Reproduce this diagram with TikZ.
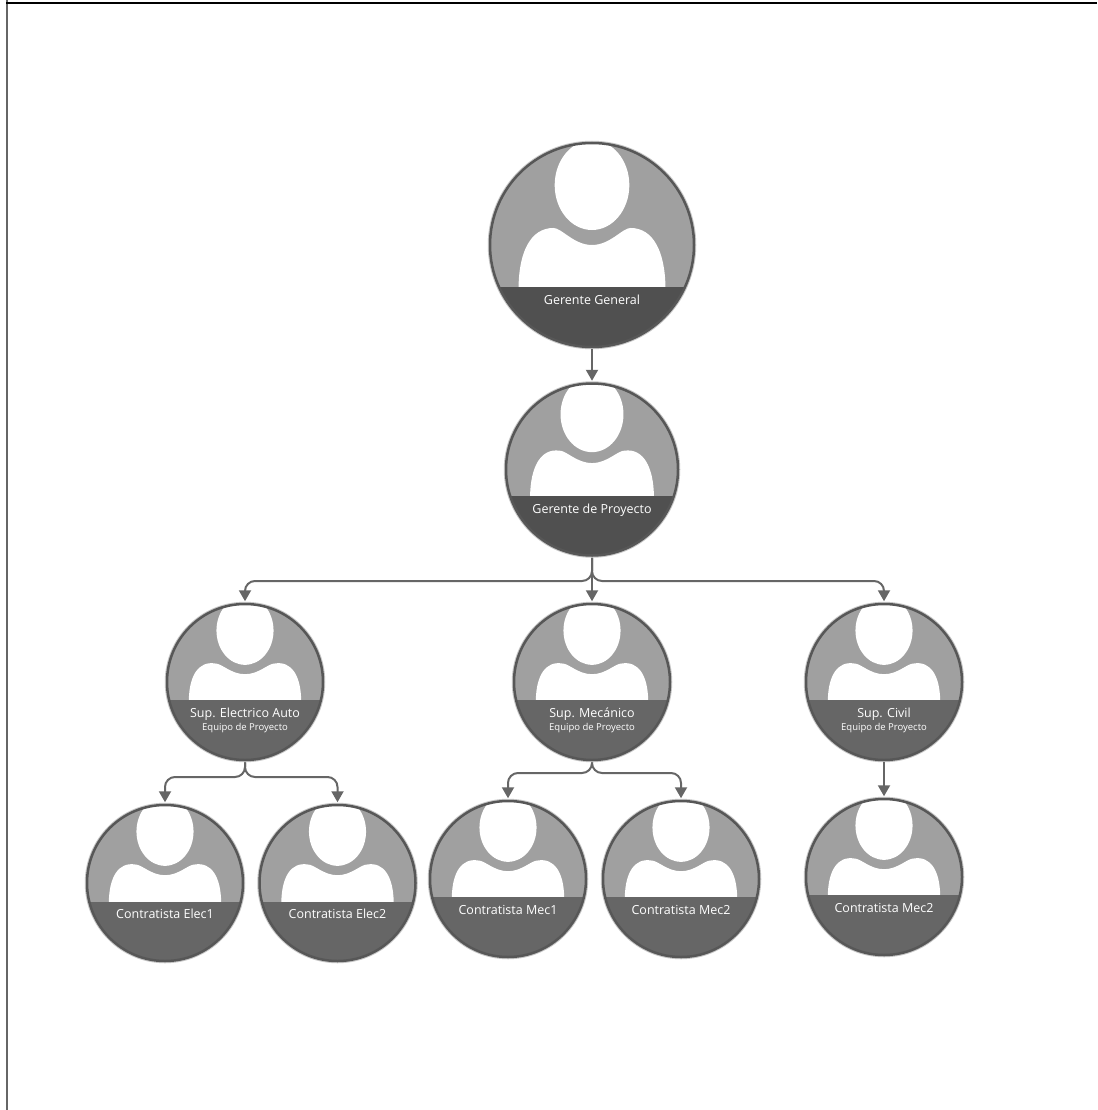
\documentclass[tikz,border=0pt]{standalone}
\usepackage{fontspec}
\setmainfont{Open Sans}
\usetikzlibrary{arrows.meta}
\definecolor{fondo}{HTML}{A0A0A0}
\definecolor{oscuro}{HTML}{505050}
\definecolor{medio}{HTML}{666666}
\tikzset{
	aro/.style = {draw = medio!85!black, circle, line width = 2.5pt, inner sep = 0pt},
	halo/.style = {draw = black!22, line width = 4.5pt},
	cuerpo/.style = {fill = white},
	etiqueta/.style = {text = white, align = center, inner sep = 0pt, font = \fontsize{12.5}{15}\selectfont},
	flecha/.style = {draw = medio, line width = 2pt, shorten < = 1pt, shorten > = 1.5pt, rounded corners = 10pt, -{Triangle[length = 11pt, width = 12pt]}}
}
\newcommand{\subtitulo}[1]{\\[-2pt]{\fontsize{9.5}{10}\selectfont #1}}
\newcommand{\persona}[8]{
	\begin{scope}[shift = {(#2,#3)}, x = #4pt, y = #4pt]
		\draw[halo] (0,0) circle (1);
		\begin{scope}
			\clip (0,0) circle (1);
			\fill[fondo] (-1,-1) rectangle (1,1);
			\fill[cuerpo] (0,{.587+.73*#6}) ellipse [x radius = .366, y radius = .44];
			\fill[cuerpo] (-.72,-1) -- (-.72,-#5) .. controls (-.715,{-#5+.6*(#5+.167+1.1*#6)}) and (-.6,{.165+1.1*#6}) .. (-.38,{.167+.7*#6})
				.. controls (-.3,{.17+.7*#6}) and (-.18,#6) .. (0,#6)
				.. controls (.18,#6) and (.3,{.17+.7*#6}) .. (.38,{.167+.7*#6})
				.. controls (.6,{.165+1.1*#6}) and (.715,{-#5+.6*(#5+.167+1.1*#6)}) .. (.72,-#5) -- (.72,-1) -- cycle;
			\fill[#7] (-1,-#5) rectangle (1,-1);
		\end{scope}
		\node[etiqueta, anchor = north] (#1t) at (0,-#5) {\rule{0pt}{17pt}#8};
	\end{scope}
	\node[aro, minimum size = #4*2pt] (#1) at (#2,#3) {};
}
\begin{document}
\begin{tikzpicture}[x = 1pt, y = -1pt]
	\useasboundingbox (0,0) rectangle (1097,1110);
	\fill[white] (0,0) rectangle (1097,1110);
	\draw[medio, line width = 2pt] (7,0) -- (7,1110);
	\draw[black, line width = 2pt] (6,3) -- (1097,3);

	\persona{gg}{592}{245}{102}{.41}{0}{oscuro}{Gerente General}
	\persona{gp}{592}{469.5}{86}{.31}{.075}{oscuro}{Gerente de Proyecto}
	\persona{se}{245}{682}{78}{.23}{.1}{medio}{Sup. Electrico Auto\subtitulo{Equipo de Proyecto}}
	\persona{sm}{592}{682}{78}{.23}{.1}{medio}{Sup. Mecánico\subtitulo{Equipo de Proyecto}}
	\persona{sc}{884}{682}{78}{.23}{.1}{medio}{Sup. Civil\subtitulo{Equipo de Proyecto}}
	\persona{ce1}{165}{883}{78}{.24}{.1}{medio}{Contratista Elec1}
	\persona{ce2}{337.5}{883}{78}{.24}{.1}{medio}{Contratista Elec2}
	\persona{cm1}{508}{879}{78}{.23}{.1}{medio}{Contratista Mec1}
	\persona{cm2}{681}{879}{78}{.23}{.1}{medio}{Contratista Mec2}
	\persona{cm3}{884}{877}{78}{.23}{.1}{medio}{Contratista Mec2}

	\coordinate (busgp) at (592,581);
	\coordinate (busse) at (245,777);
	\coordinate (bussm) at (592,773);

	\draw[flecha] (gg.south) -- (gp.north);
	\draw[flecha] (gp.south) -- (busgp) -| (se.north);
	\draw[flecha] (gp.south) -- (sm.north);
	\draw[flecha] (gp.south) -- (busgp) -| (sc.north);
	\draw[flecha] (se.south) -- (busse) -| (ce1.north);
	\draw[flecha] (se.south) -- (busse) -| (ce2.north);
	\draw[flecha] (sm.south) -- (bussm) -| (cm1.north);
	\draw[flecha] (sm.south) -- (bussm) -| (cm2.north);
	\draw[flecha] (sc.south) -- (cm3.north);
\end{tikzpicture}
\end{document}
